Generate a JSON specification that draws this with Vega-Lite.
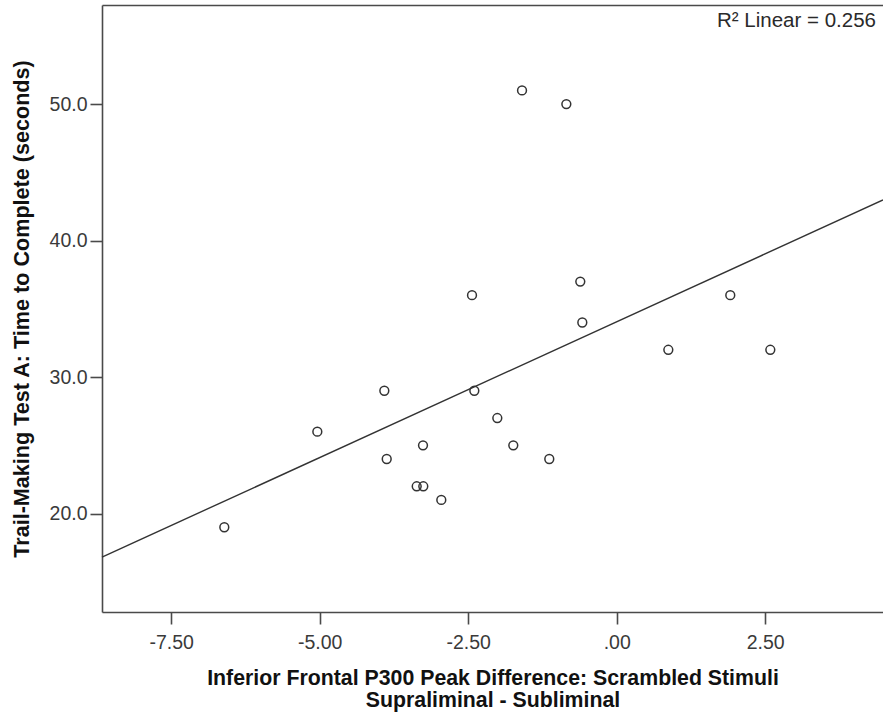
{
  "$schema": "https://vega.github.io/schema/vega-lite/v6.json",
  "width": 781,
  "height": 607,
  "autosize": {"type": "none"},
  "padding": {"left": 102, "top": 5, "right": 0, "bottom": 100},
  "background": "white",
  "config": {
    "view": {"stroke": null},
    "font": "Liberation Sans",
    "axis": {
      "grid": false,
      "domainColor": "#4a4a4a",
      "domainWidth": 1.6,
      "tickColor": "#4a4a4a",
      "tickWidth": 1.6,
      "tickSize": 12,
      "labelFont": "Liberation Sans",
      "labelFontSize": 19.5,
      "labelColor": "#3a3a3a",
      "titleFont": "Liberation Sans",
      "titleFontSize": 21.3,
      "titleFontWeight": "bold",
      "titleColor": "#111111"
    }
  },
  "data": {
    "values": [
      {"p300": -6.606, "tmt": 19},
      {"p300": -5.040, "tmt": 26},
      {"p300": -3.912, "tmt": 29},
      {"p300": -3.872, "tmt": 24},
      {"p300": -3.367, "tmt": 22},
      {"p300": -3.256, "tmt": 22},
      {"p300": -3.261, "tmt": 25},
      {"p300": -2.953, "tmt": 21},
      {"p300": -2.436, "tmt": 36},
      {"p300": -2.397, "tmt": 29},
      {"p300": -2.010, "tmt": 27},
      {"p300": -1.741, "tmt": 25},
      {"p300": -1.594, "tmt": 51},
      {"p300": -1.135, "tmt": 24},
      {"p300": -0.848, "tmt": 50},
      {"p300": -0.613, "tmt": 37},
      {"p300": -0.579, "tmt": 34},
      {"p300": 0.869, "tmt": 32},
      {"p300": 1.912, "tmt": 36},
      {"p300": 2.586, "tmt": 32}
    ]
  },
  "layer": [
    {
      "mark": {"type": "point", "shape": "circle", "filled": false, "size": 78, "strokeWidth": 1.5, "color": "#333333", "opacity": 1},
      "encoding": {
        "x": {
          "field": "p300", "type": "quantitative",
          "scale": {"domain": [-8.665, 4.483], "nice": false, "zero": false},
          "axis": {
            "orient": "bottom",
            "values": [-7.5, -5, -2.5, 0, 2.5],
            "labelExpr": "datum.value == 0 ? '.00' : replace(format(datum.value, '.2f'), '\u2212', '-')",
            "labelPadding": 9,
            "title": ["Inferior Frontal P300 Peak Difference: Scrambled Stimuli", "Supraliminal - Subliminal"],
            "titleLineHeight": 22,
            "titleBaseline": "top",
            "titleY": 55
          }
        },
        "y": {
          "field": "tmt", "type": "quantitative",
          "scale": {"domain": [12.79, 57.26], "nice": false, "zero": false},
          "axis": {
            "orient": "left",
            "values": [20, 30, 40, 50],
            "format": ".1f",
            "labelPadding": 3,
            "title": "Trail-Making Test A: Time to Complete (seconds)",
            "titleFontSize": 21.6,
            "titleBaseline": "alphabetic",
            "titleAngle": 270,
            "titleX": -73.5
          }
        }
      }
    },
    {
      "transform": [{"regression": "tmt", "on": "p300", "extent": [-8.665, 4.483]}],
      "mark": {"type": "line", "color": "#333333", "strokeWidth": 1.4},
      "encoding": {
        "x": {
          "field": "p300", "type": "quantitative",
          "scale": {"domain": [-8.665, 4.483], "nice": false, "zero": false},
          "axis": {"orient": "top", "labels": false, "ticks": false, "title": null, "domain": true}
        },
        "y": {
          "field": "tmt", "type": "quantitative",
          "scale": {"domain": [12.79, 57.26], "nice": false, "zero": false}
        }
      }
    },
    {
      "data": {"values": [{"label": "R² Linear = 0.256"}]},
      "mark": {"type": "text", "align": "right", "baseline": "alphabetic", "font": "Liberation Sans", "fontSize": 20.5, "fontWeight": "normal", "fill": "#2a2a2a"},
      "encoding": {
        "text": {"field": "label", "type": "nominal"},
        "x": {"datum": 4.365, "type": "quantitative", "scale": {"domain": [-8.665, 4.483], "nice": false, "zero": false}, "axis": null},
        "y": {"datum": 55.67, "type": "quantitative", "scale": {"domain": [12.79, 57.26], "nice": false, "zero": false}}
      }
    }
  ],
  "resolve": {"axis": {"x": "independent"}}
}
